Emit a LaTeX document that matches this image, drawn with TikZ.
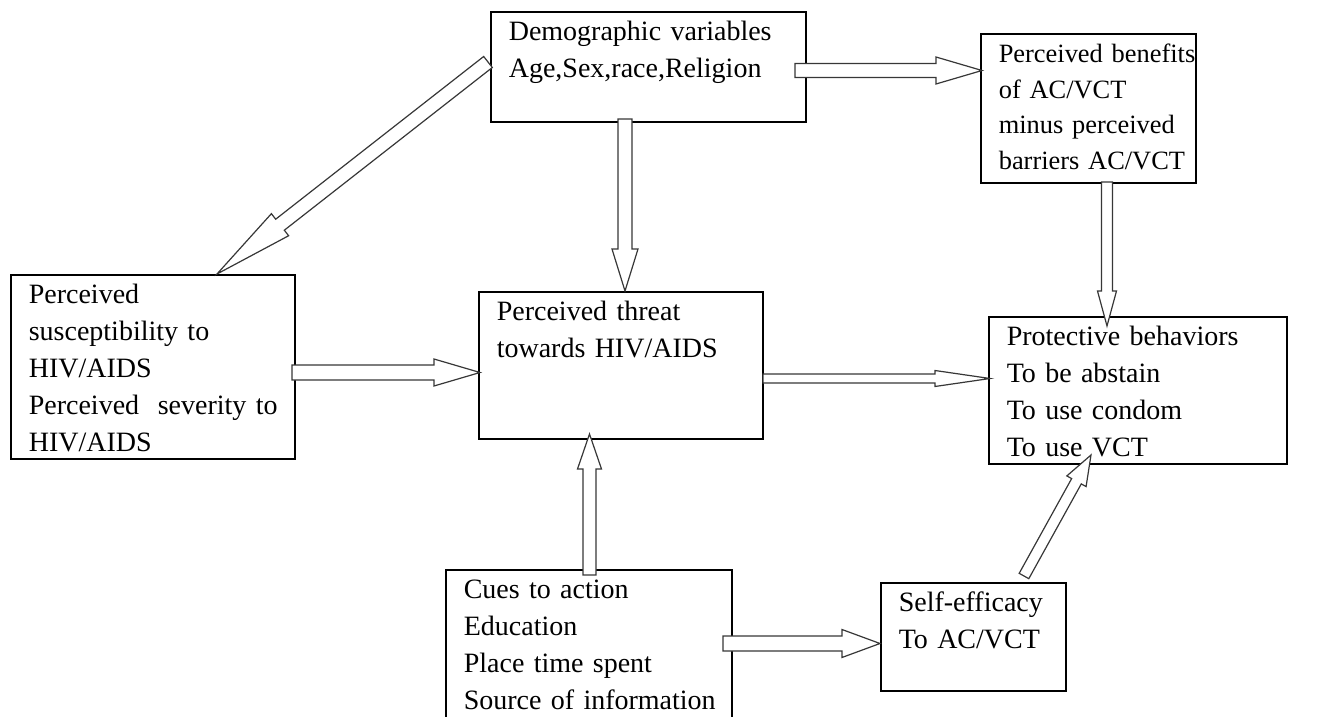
\documentclass[tikz,border=0pt]{standalone}
\usepackage{fontspec}
\setmainfont{Liberation Serif}
\usetikzlibrary{calc}
\definecolor{arrowgray}{RGB}{55, 55, 55}

% hollow block arrow: from, to, shaft half width, head half width, head length
\newcommand{\blockarrow}[5]{%
  \coordinate (ba-h) at ($(#2)!#5!(#1)$);
  \draw[hollow] ($(#1)!#3!90:(#2)$) -- ($(ba-h)!#3!90:(#2)$) -- ($(ba-h)!#4!90:(#2)$)
    -- (#2) -- ($(ba-h)!#4!-90:(#2)$) -- ($(ba-h)!#3!-90:(#2)$) -- ($(#1)!#3!-90:(#2)$) -- cycle;
}
% lines of a box, kept unbroken
\newcommand{\boxlines}[1]{\begin{tabular}[t]{@{}l@{}}#1\end{tabular}}

\begin{document}
\begin{tikzpicture}[x=0.5pt, y=-0.5pt,
  box/.style={draw, line width=0.8pt, anchor=north west, align=left, inner xsep=9pt, inner ysep=0pt,
    text height=14.5pt, font=\fontsize{14}{18.5}\selectfont},
  hollow/.style={draw=arrowgray, line width=0.6pt, fill=white, line join=miter}]
  \useasboundingbox (0,0) rectangle (1319,717);

  % Boxes
  \node[box, text width=139.5pt, text depth=40.5pt] (demo) at (490,11)
    {\boxlines{Demographic variables\\Age,Sex,race,Religion}};
  \node[box, text width=89.5pt, text depth=60pt, font=\fontsize{13.2}{17.8}\selectfont] (benefits) at (980,33)
    {\boxlines{Perceived benefits\\of AC/VCT\\minus perceived\\barriers AC/VCT}};
  \node[box, text width=124pt, text depth=77.5pt] (suscept) at (10,274)
    {\boxlines{Perceived\\susceptibility to\\HIV/AIDS\\Perceived\ \ severity to\\HIV/AIDS}};
  \node[box, text width=124pt, text depth=59pt] (threat) at (478,291)
    {\boxlines{Perceived threat\\towards HIV/AIDS}};
  \node[box, text width=131pt, text depth=59pt] (protect) at (988,316)
    {\boxlines{Protective behaviors\\To be abstain\\To use condom\\To use VCT}};
  \node[box, text width=125pt, text depth=65.5pt] (cues) at (445,569)
    {\boxlines{Cues to action\\Education\\Place time spent\\Source of information}};
  \node[box, text width=74.5pt, text depth=39.5pt] (selfeff) at (880,582)
    {\boxlines{Self-efficacy\\To AC/VCT}};

  % Arrow ends
  \coordinate (demo-sw) at (488,62);
  \coordinate (suscept-in) at (217,274);
  \coordinate (demo-s) at (625,119);
  \coordinate (threat-n) at (625,291);
  \coordinate (demo-e) at (795,70.5);
  \coordinate (benefits-w) at (982,70.5);
  \coordinate (benefits-s) at (1107,182);
  \coordinate (protect-n) at (1107,326);
  \coordinate (suscept-e) at (292,372.5);
  \coordinate (threat-w) at (480,372.5);
  \coordinate (threat-e) at (763,378.5);
  \coordinate (protect-w) at (990,378.5);
  \coordinate (cues-n) at (589.5,575);
  \coordinate (threat-s) at (589.5,434);
  \coordinate (cues-e) at (723,643.5);
  \coordinate (selfeff-w) at (880,643.5);
  \coordinate (selfeff-n) at (1024,576);
  \coordinate (protect-s) at (1091,455);

  % Arrows
  \blockarrow{demo-sw}{suscept-in}{3.5pt}{7pt}{40pt}
  \blockarrow{demo-s}{threat-n}{3.5pt}{6.5pt}{21pt}
  \blockarrow{demo-e}{benefits-w}{3.5pt}{6.75pt}{23pt}
  \blockarrow{benefits-s}{protect-n}{2.75pt}{4.75pt}{17.5pt}
  \blockarrow{suscept-e}{threat-w}{3.75pt}{6.75pt}{23pt}
  \blockarrow{threat-e}{protect-w}{2.25pt}{4pt}{27.5pt}
  \blockarrow{cues-n}{threat-s}{3.25pt}{6pt}{17.5pt}
  \blockarrow{cues-e}{selfeff-w}{3.75pt}{7pt}{19pt}
  \blockarrow{selfeff-n}{protect-s}{2.75pt}{5.5pt}{15pt}
\end{tikzpicture}
\end{document}
